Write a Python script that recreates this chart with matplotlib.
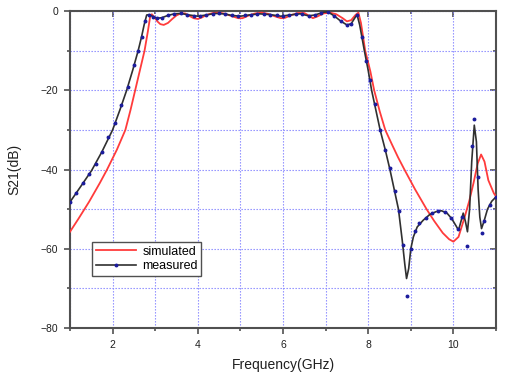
import matplotlib
matplotlib.use("Agg")
import matplotlib.pyplot as plt
from matplotlib.lines import Line2D
from matplotlib.ticker import MultipleLocator

plt.rcParams['font.family'] = ['Liberation Sans', 'DejaVu Sans']

# simulated S21 (red)
sim_freq = [1.0, 1.2, 1.45, 1.7, 1.87, 2.1, 2.3, 2.42, 2.53, 2.64, 2.75, 2.83, 2.88, 2.92,
            2.98, 3.05, 3.12, 3.2, 3.3, 3.4, 3.5, 3.6, 3.7, 3.8, 3.9, 4.0, 4.1, 4.2,
            4.35, 4.5, 4.65, 4.8, 4.95, 5.05, 5.2, 5.35, 5.5, 5.65, 5.8, 5.95, 6.05,
            6.2, 6.35, 6.5, 6.6, 6.7, 6.8, 6.95, 7.1, 7.25, 7.4, 7.5, 7.6, 7.7, 7.77,
            7.83, 7.93, 8.05, 8.14, 8.27, 8.4, 8.55, 8.7, 8.85, 9.1, 9.37, 9.55,
            9.75, 9.9, 10.0, 10.12, 10.25, 10.37, 10.47, 10.57, 10.65, 10.73, 10.82,
            10.95, 11.0]
sim_db = [-55.7, -52.4, -48.1, -43.4, -40.0, -35.0, -30.0, -25.0, -20.0, -15.0, -10.0,
          -5.0, -1.5, -0.8, -1.5, -2.6, -3.3, -3.5, -3.0, -2.0, -1.1, -0.6, -0.6, -1.2,
          -1.8, -2.0, -1.6, -1.0, -0.5, -0.4, -0.7, -1.3, -1.8, -1.8, -1.1, -0.6, -0.4,
          -0.7, -1.3, -1.8, -1.7, -1.0, -0.5, -0.5, -1.1, -1.8, -1.4, -0.6, -0.4, -0.8,
          -1.8, -2.6, -2.3, -1.0, -0.4, -3.0, -10.0, -15.2, -20.0, -25.3, -30.0, -33.5,
          -36.9, -40.0, -45.0, -50.0, -53.0, -56.0, -57.6, -58.2, -57.0, -52.5, -48.0,
          -43.5, -38.5, -36.2, -38.0, -42.7, -46.0, -46.8]

# measured S21 (black line)
meas_freq = [1.0, 1.25, 1.51, 1.75, 2.0, 2.17, 2.33, 2.47, 2.6, 2.68, 2.74, 2.8, 2.86,
             2.95, 3.05, 3.15, 3.3, 3.45, 3.6, 3.8, 4.0, 4.2, 4.4, 4.6, 4.8, 5.0, 5.2,
             5.45, 5.7, 5.95, 6.15, 6.4, 6.6, 6.75, 6.95, 7.05, 7.2, 7.35, 7.5, 7.6,
             7.7, 7.74, 7.8, 7.91, 8.0, 8.08, 8.18, 8.28, 8.4, 8.51, 8.61, 8.71, 8.8,
             8.86, 8.9, 8.95, 9.0, 9.06, 9.15, 9.29, 9.45, 9.6, 9.72, 9.85, 9.96,
             10.05, 10.12, 10.18, 10.23, 10.28, 10.33, 10.38, 10.43, 10.49, 10.54,
             10.58, 10.62, 10.66, 10.72, 10.8, 10.9, 11.0]
meas_db = [-48.2, -44.3, -40.2, -35.5, -30.0, -25.0, -20.0, -15.0, -10.0, -6.5, -3.5,
           -1.0, -0.9, -1.4, -1.8, -1.7, -1.1, -0.7, -0.6, -1.0, -1.3, -1.0, -0.6, -0.7,
           -1.1, -1.3, -1.0, -0.7, -0.9, -1.3, -1.0, -0.7, -1.2, -1.0, -0.3, -0.2, -1.2,
           -2.5, -3.5, -3.2, -1.5, -1.0, -3.5, -10.0, -15.0, -20.0, -25.0, -30.0, -35.0,
           -40.0, -45.0, -50.0, -58.0, -64.0, -67.5, -65.0, -60.0, -57.0, -54.5, -52.8,
           -51.3, -50.6, -50.4, -51.0, -52.4, -54.0, -55.3, -53.0, -51.0, -53.0, -55.7,
           -50.0, -38.0, -28.8, -33.0, -45.0, -52.0, -54.9, -53.0, -50.0, -48.0, -46.9]

# measured sample points (blue dots)
dot_freq = [1.0, 1.15, 1.3, 1.45, 1.6, 1.75, 1.9, 2.05, 2.2, 2.35, 2.5, 2.6, 2.68, 2.76,
            2.85, 2.95, 3.05, 3.15, 3.3, 3.45, 3.6, 3.75, 3.9, 4.05, 4.2, 4.35, 4.5,
            4.65, 4.8, 4.95, 5.1, 5.25, 5.4, 5.55, 5.7, 5.85, 6.0, 6.15, 6.3, 6.45,
            6.6, 6.75, 6.9, 7.05, 7.2, 7.35, 7.5, 7.6, 7.74, 7.85, 7.95, 8.05, 8.15,
            8.28, 8.4, 8.5, 8.62, 8.72, 8.81, 8.9, 9.0, 9.1, 9.2, 9.35, 9.5, 9.65, 9.8,
            9.95, 10.1, 10.2, 10.33, 10.43, 10.49, 10.57, 10.66, 10.72, 10.85, 11.0]
dot_db = [-48.2, -46.0, -43.5, -41.2, -38.5, -35.5, -31.8, -28.3, -23.6, -19.2, -13.5,
          -10.0, -6.5, -2.5, -0.9, -1.4, -1.8, -1.7, -1.1, -0.7, -0.6, -0.9, -1.2, -1.3,
          -1.0, -0.7, -0.6, -0.8, -1.1, -1.3, -1.1, -0.9, -0.7, -0.8, -0.9, -1.1, -1.3,
          -1.0, -0.8, -0.8, -1.2, -1.0, -0.4, -0.2, -1.2, -2.5, -3.5, -3.2, -1.0, -6.5,
          -12.5, -17.5, -23.5, -30.0, -35.0, -39.5, -45.5, -50.5, -59.0, -72.0, -60.0,
          -55.5, -53.5, -52.2, -51.0, -50.5, -50.7, -52.2, -55.0, -52.0, -59.3, -34.0,
          -27.3, -42.0, -56.0, -53.0, -49.0, -46.9]

fig = plt.figure(figsize=(5.05, 3.81), dpi=100)
ax = fig.add_axes([0.1386, 0.139, 0.8436, 0.832])

ax.plot(sim_freq, sim_db, color='#ff3b3b', lw=1.3, zorder=3)
ax.plot(meas_freq, meas_db, color='#303030', lw=1.2, zorder=4)
ax.plot(dot_freq, dot_db, ls='none', marker='o', ms=1.8, color='#1c1c9c', zorder=5)

ax.set_xlim(1, 11)
ax.set_ylim(-80, 0)
ax.xaxis.set_major_locator(MultipleLocator(2))
ax.xaxis.set_minor_locator(MultipleLocator(1))
ax.yaxis.set_major_locator(MultipleLocator(20))
ax.yaxis.set_minor_locator(MultipleLocator(10))

ax.grid(True, which='both', color='#8585ff', ls=(0, (1.2, 1.5)), lw=0.8)
ax.set_axisbelow(True)

for s in ax.spines.values():
    s.set_color('#505050')
    s.set_linewidth(1.5)

ax.tick_params(which='both', direction='out', colors='#505050', labelcolor='#202020',
               labelsize=7.5, width=1.2)
ax.tick_params(which='major', length=4.5, pad=4)
ax.tick_params(which='minor', length=2.5)

# inward ticks on top and right
top = ax.secondary_xaxis('top')
top.xaxis.set_major_locator(MultipleLocator(2))
top.xaxis.set_minor_locator(MultipleLocator(1))
top.tick_params(which='both', direction='in', labeltop=False, colors='#505050', width=1.2)
top.tick_params(which='major', length=4.5)
top.tick_params(which='minor', length=2.5)
top.spines['top'].set_visible(False)
right = ax.secondary_yaxis('right')
right.yaxis.set_major_locator(MultipleLocator(20))
right.yaxis.set_minor_locator(MultipleLocator(10))
right.tick_params(which='both', direction='in', labelright=False, colors='#505050', width=1.2)
right.tick_params(which='major', length=4.5)
right.tick_params(which='minor', length=2.5)
right.spines['right'].set_visible(False)

ax.set_xlabel('Frequency(GHz)', fontsize=10, color='#202020')
ax.set_ylabel('S21(dB)', fontsize=10, color='#202020')
ax.xaxis.set_label_coords(0.5, -0.095)
ax.yaxis.set_label_coords(-0.115, 0.5)

handles = [Line2D([], [], color='#ff3b3b', lw=1.3),
           Line2D([], [], color='#303030', lw=1.2, marker='o', ms=1.8,
                  markerfacecolor='#1c1c9c', markeredgecolor='#1c1c9c')]
leg = ax.legend(handles, ['simulated', 'measured'], loc='upper left',
                bbox_to_anchor=(0.052, 0.272), fontsize=9, fancybox=False,
                framealpha=1, edgecolor='#505050', handlelength=3.2, numpoints=1,
                borderpad=0.3, labelspacing=0.2, handletextpad=0.5, borderaxespad=0)
leg.get_frame().set_linewidth(1.0)
leg.set_zorder(10)

fig.savefig('out.png', dpi=100)
